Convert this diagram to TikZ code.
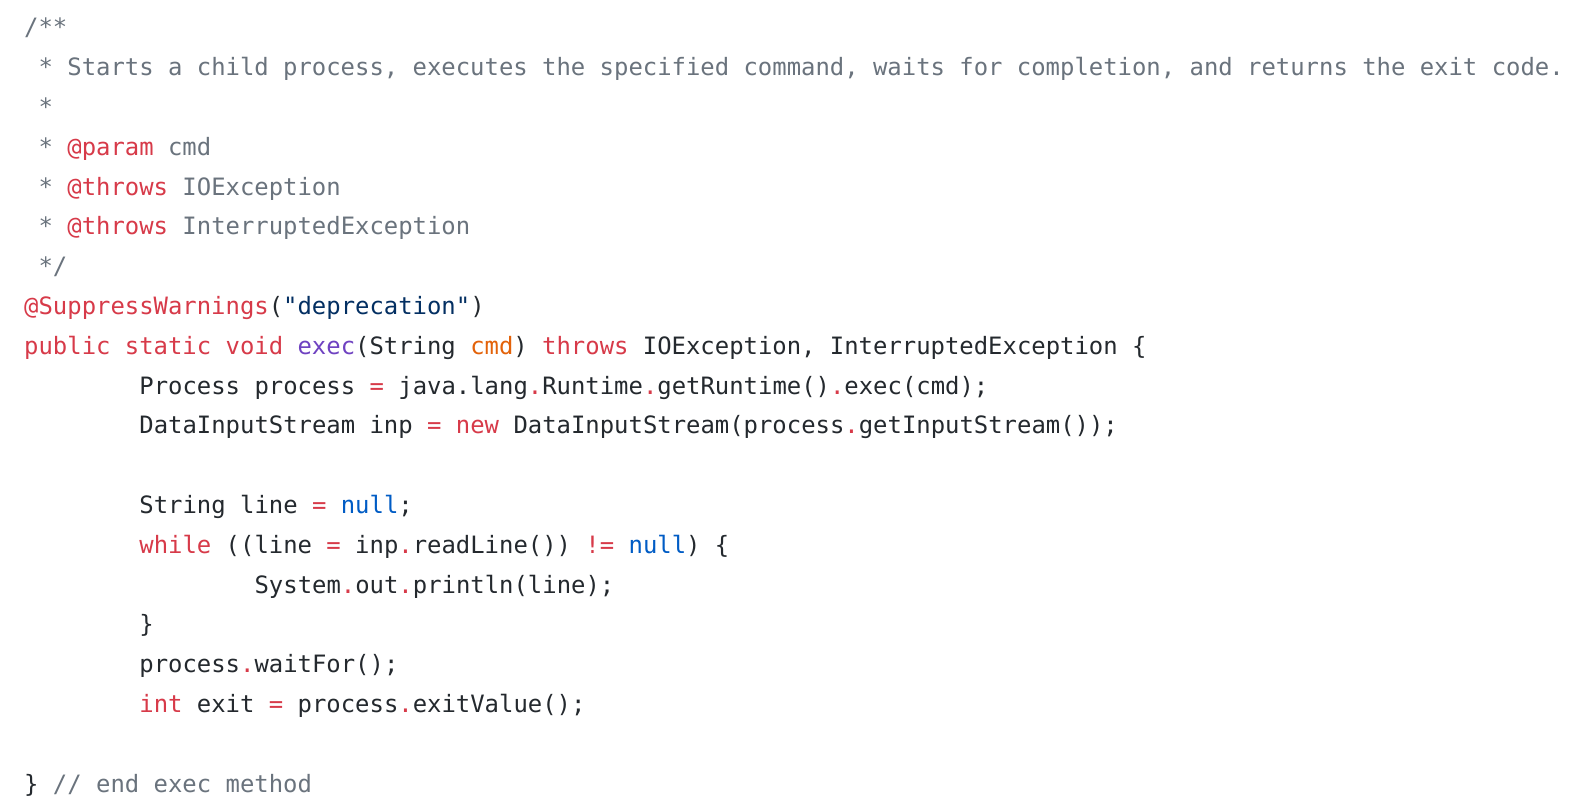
\documentclass[tikz,border=0pt]{standalone}
\usepackage{fontspec}
\setmonofont{DejaVu Sans Mono}
\definecolor{cm}{HTML}{6A737D}
\definecolor{kw}{HTML}{D73A49}
\definecolor{fn}{HTML}{6F42C1}
\definecolor{vr}{HTML}{E36209}
\definecolor{ct}{HTML}{005CC5}
\definecolor{st}{HTML}{032F62}
\definecolor{tx}{HTML}{24292E}
\newcommand{\K}[1]{\textcolor{kw}{#1}}
\newcommand{\D}{\textcolor{kw}{.}}
\tikzset{code/.style={anchor=base west,inner sep=0pt,text=tx,font=\fontsize{23.9}{28}\ttfamily}}
\begin{document}
\begin{tikzpicture}[x=1pt,y=1pt]
\fill[white] (0,0) rectangle (1576,810);
\useasboundingbox (0,0) rectangle (1576,810);
\def\B#1{810-36-39.8*#1}
\def\C#1{24+14.4*#1}
\node[code,text=cm] (l0) at (\C{0},{\B{0}}) {/**};
\node[code,text=cm] (l1) at (\C{1},{\B{1}}) {* Starts a child process, executes the specified command, waits for completion, and returns the exit code.};
\node[code,text=cm] (l2) at (\C{1},{\B{2}}) {*};
\node[code,text=cm] (l3) at (\C{1},{\B{3}}) {* \K{@param} cmd};
\node[code,text=cm] (l4) at (\C{1},{\B{4}}) {* \K{@throws} IOException};
\node[code,text=cm] (l5) at (\C{1},{\B{5}}) {* \K{@throws} InterruptedException};
\node[code,text=cm] (l6) at (\C{1},{\B{6}}) {*/};
\node[code] (l7) at (\C{0},{\B{7}}) {\K{@SuppressWarnings}(\textcolor{st}{"deprecation"})};
\node[code] (l8) at (\C{0},{\B{8}}) {\K{public static void} \textcolor{fn}{exec}(String \textcolor{vr}{cmd}) \K{throws} IOException, InterruptedException \{};
\node[code] (l9) at (\C{8},{\B{9}}) {Process process \K{=} java.lang\D Runtime\D getRuntime()\D exec(cmd);};
\node[code] (l10) at (\C{8},{\B{10}}) {DataInputStream inp \K{=} \K{new} DataInputStream(process\D getInputStream());};
\node[code] (l12) at (\C{8},{\B{12}}) {String line \K{=} \textcolor{ct}{null};};
\node[code] (l13) at (\C{8},{\B{13}}) {\K{while} ((line \K{=} inp\D readLine()) \K{!=} \textcolor{ct}{null}) \{};
\node[code] (l14) at (\C{16},{\B{14}}) {System\D out\D println(line);};
\node[code] (l15) at (\C{8},{\B{15}}) {\}};
\node[code] (l16) at (\C{8},{\B{16}}) {process\D waitFor();};
\node[code] (l17) at (\C{8},{\B{17}}) {\K{int} exit \K{=} process\D exitValue();};
\node[code] (l19) at (\C{0},{\B{19}}) {\} \textcolor{cm}{// end exec method}};
\end{tikzpicture}
\end{document}
